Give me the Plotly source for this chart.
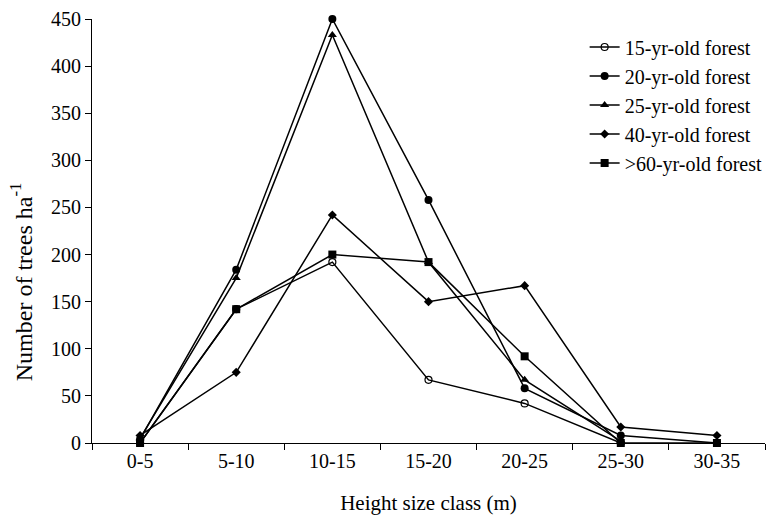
import plotly.graph_objects as go

categories = ["0-5", "5-10", "10-15", "15-20", "20-25", "25-30", "30-35"]
series_names = ["15-yr-old forest", "20-yr-old forest", "25-yr-old forest",
                "40-yr-old forest", ">60-yr-old forest"]
yr15 = [0, 142, 192, 67, 42, 0, None]
yr20 = [4, 184, 450, 258, 58, 8, 0]
yr25 = [5, 175, 433, 192, 67, 2, None]
yr40 = [8, 75, 242, 150, 167, 17, 8]
yr60 = [0, 142, 200, 192, 92, 0, 0]
y_ticks = [0, 50, 100, 150, 200, 250, 300, 350, 400, 450]

series = [yr15, yr20, yr25, yr40, yr60]
markers = [
    dict(symbol="circle-open", size=7, color="black", line=dict(width=1.2, color="black")),
    dict(symbol="circle", size=8, color="black"),
    dict(symbol="triangle-up", size=8, color="black"),
    dict(symbol="diamond", size=7, color="black"),
    dict(symbol="square", size=8, color="black"),
]

fig = go.Figure()
for i, (name, vals) in enumerate(zip(series_names, series)):
    fig.add_trace(go.Scatter(
        x=categories, y=vals, name=name, mode="lines+markers",
        line=dict(color="black", width=1.5), marker=markers[i],
        cliponaxis=False, connectgaps=False, legendgroup=str(i),
    ))

font_family = "Liberation Serif"
fig.update_layout(
    width=775, height=526,
    margin=dict(l=92, r=7, t=19, b=83),
    paper_bgcolor="white", plot_bgcolor="white",
    font=dict(family=font_family, size=20, color="black"),
    showlegend=True,
    legend=dict(x=0.732, y=0.98, xanchor="left", yanchor="top",
                bgcolor="rgba(0,0,0,0)", font=dict(size=20, family=font_family),
                tracegroupgap=0, itemwidth=30),
    xaxis=dict(
        type="category", categoryorder="array", categoryarray=categories,
        range=[-0.5, 6.5], showline=True, linecolor="black", linewidth=1,
        ticks="outside", tickson="boundaries", ticklen=6, tickcolor="black",
        showgrid=False, zeroline=False,
        title=dict(text="Height size class (m)", font=dict(size=21, family=font_family), standoff=24),
        tickfont=dict(size=20, family=font_family),
    ),
    yaxis=dict(
        range=[0, 450], tickvals=y_ticks, showline=True, linecolor="black", linewidth=1,
        ticks="outside", ticklen=6, tickcolor="black", showgrid=False, zeroline=False,
        tickfont=dict(size=20, family=font_family),
    ),
    annotations=[dict(
        text="Number of trees ha<sup>-1</sup>", textangle=-90,
        xref="paper", yref="paper", x=-0.105, y=0.38,
        xanchor="center", yanchor="middle", showarrow=False,
        font=dict(size=24, family=font_family, color="black"),
    )],
)

fig.write_html("out.html")
